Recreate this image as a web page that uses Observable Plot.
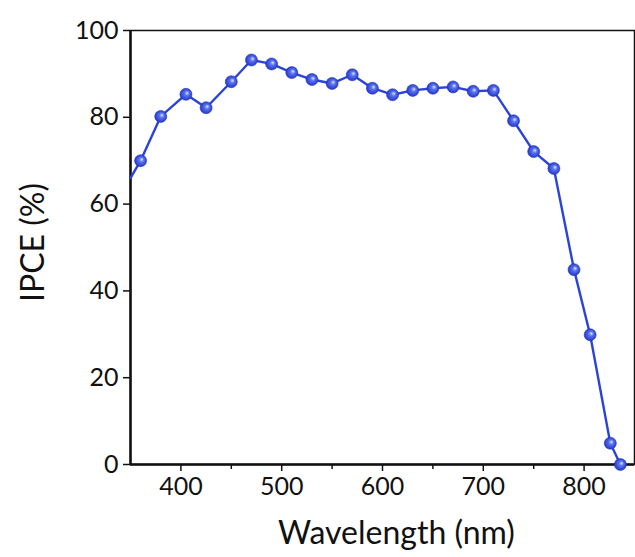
<!DOCTYPE html>
<html>
<head>
<meta charset="utf-8">
<script src="https://cdn.jsdelivr.net/npm/d3@7"></script>
<script src="https://cdn.jsdelivr.net/npm/@observablehq/plot@0.6"></script>
<style>
  html, body { margin: 0; padding: 0; background: #fff; }
</style>
</head>
<body>
<div id="chart"></div>
<script>
const wavelength = [350, 360, 380, 405, 425, 450, 470, 490, 510, 530, 550, 570, 590, 610, 630, 650, 670, 690, 710, 730, 750, 770, 790, 806, 826, 836];
const ipce = [66, 70, 80.2, 85.3, 82.2, 88.2, 93.2, 92.3, 90.3, 88.7, 87.8, 89.8, 86.7, 85.2, 86.2, 86.7, 87.0, 86.0, 86.2, 79.2, 72.1, 68.2, 44.9, 29.9, 4.9, 0];
const xMajorTicks = [400, 500, 600, 700, 800];
const xMinorTicks = [450, 550, 650, 750];
const yTicks = [0, 20, 40, 60, 80, 100];
const xLabel = "Wavelength (nm)";
const yLabel = "IPCE (%)";

const data = wavelength.map((w, i) => ({w, v: ipce[i]}));
const markers = data.slice(1);

const chart = Plot.plot({
  width: 635,
  height: 557,
  marginLeft: 130,
  marginRight: 1,
  marginTop: 30,
  marginBottom: 93,
  x: {domain: [350, 850]},
  y: {domain: [0, 100]},
  style: {fontFamily: "Lato, 'Open Sans', sans-serif", color: "#111", background: "#fff"},
  marks: [
    Plot.frame({stroke: "#111", strokeWidth: 1.5}),
    Plot.axisY({ticks: yTicks, tickSize: 7, tickPadding: 5, label: null, fontSize: 25, strokeWidth: 1.5}),
    Plot.axisX({ticks: xMajorTicks, tickSize: 7, tickPadding: 6, label: null, fontSize: 25, strokeWidth: 1.5}),
    Plot.axisX({ticks: xMinorTicks, tickSize: 5, tickFormat: () => "", label: null, strokeWidth: 1.5}),
    Plot.ruleX([350], {stroke: "#111", strokeWidth: 2.5}),
    Plot.ruleY([0], {stroke: "#111", strokeWidth: 2.5}),
    Plot.line(data, {x: "w", y: "v", stroke: "#2b43d6", strokeWidth: 2.4}),
    Plot.dot(markers, {x: "w", y: "v", r: 6, fill: "url(#ball)", stroke: "#2236c8", strokeWidth: 0.6}),
    Plot.text([xLabel], {frameAnchor: "bottom", dx: 14, dy: 79, text: d => d, fontSize: 32, fill: "#111", letterSpacing: "1.2px"}),
    Plot.text([yLabel], {frameAnchor: "left", textAnchor: "middle", dx: -97, dy: -5, rotate: -90, text: d => d, fontSize: 32, fill: "#111", letterSpacing: "2.5px"})
  ]
});

const defs = d3.select(chart).insert("defs", ":first-child");
const g = defs.append("radialGradient").attr("id", "ball")
  .attr("cx", "0.5").attr("cy", "0.5").attr("r", "0.55")
  .attr("fx", "0.62").attr("fy", "0.38");
g.append("stop").attr("offset", "0%").attr("stop-color", "#dfe6ff");
g.append("stop").attr("offset", "35%").attr("stop-color", "#5a72f0");
g.append("stop").attr("offset", "100%").attr("stop-color", "#1e30c0");

document.getElementById("chart").appendChild(chart);
</script>
</body>
</html>
